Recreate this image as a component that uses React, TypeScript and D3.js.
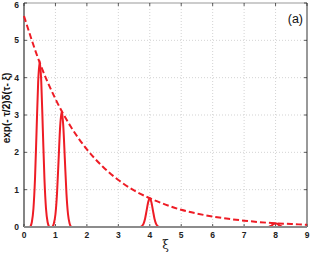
import { useMemo } from 'react';
import * as d3 from 'd3';

// envelope exp(-ξ/2)
const envXi = [0, 0.5, 1, 1.5, 2, 2.5, 3, 3.5, 4, 4.5, 5, 5.5, 6, 6.5, 7, 7.5, 8, 8.5, 9];
const envVal = [5.65, 4.4, 3.43, 2.67, 2.08, 1.62, 1.26, 0.98, 0.77, 0.6, 0.46, 0.36, 0.28, 0.22, 0.17, 0.13, 0.1, 0.08, 0.06];

// spikes: centre, height
const peakXi = [0.5, 1.2, 4, 8];
const peakHeight = [4.45, 3.1, 0.77, 0.1];
// shape of one spike (offset in ξ, fraction of height)
const peakOffset = [-0.3, -0.25, -0.2, -0.15, -0.1, -0.05, 0, 0.05, 0.1, 0.15, 0.2, 0.25, 0.3];
const peakShape = [0, 0.03, 0.11, 0.29, 0.58, 0.87, 1, 0.87, 0.58, 0.29, 0.11, 0.03, 0];

const xTicks = [0, 1, 2, 3, 4, 5, 6, 7, 8, 9];
const yTicks = [0, 1, 2, 3, 4, 5, 6];

const W = 311;
const H = 253;
const margin = { top: 3, right: 4, bottom: 26, left: 24 };
const RED = '#ee1c25';

export default function App() {
  const iw = W - margin.left - margin.right;
  const ih = H - margin.top - margin.bottom;
  const x = d3.scaleLinear().domain([0, 9]).range([0, iw]);
  const y = d3.scaleLinear().domain([0, 6]).range([ih, 0]);

  const envPath = useMemo(() => {
    const line = d3.line<number>()
      .x((_d, i) => x(envXi[i]))
      .y((d) => y(d))
      .curve(d3.curveMonotoneX);
    return line(envVal) ?? '';
  }, []);

  const peakPaths = useMemo(() => {
    const line = d3.line<[number, number]>()
      .x((d) => x(d[0]))
      .y((d) => y(d[1]))
      .curve(d3.curveMonotoneX);
    return peakXi.map((c, k) => {
      const pts: [number, number][] = peakOffset.map((o, i) => [c + o, peakShape[i] * peakHeight[k]]);
      return line(pts) ?? '';
    });
  }, []);

  const font = 'Arial, "Liberation Sans", Helvetica, sans-serif';

  return (
    <svg width={W} height={H} style={{ position: 'absolute', left: 0, top: 0, background: '#fff' }}>
      <g transform={`translate(${margin.left},${margin.top})`}>
        {/* grid */}
        {xTicks.slice(1, -1).map((t) => (
          <line key={'gx' + t} x1={x(t)} x2={x(t)} y1={0} y2={ih} stroke="#c8c8c8" strokeWidth={0.8} strokeDasharray="1,2" />
        ))}
        {yTicks.slice(1, -1).map((t) => (
          <line key={'gy' + t} x1={0} x2={iw} y1={y(t)} y2={y(t)} stroke="#c8c8c8" strokeWidth={0.8} strokeDasharray="1,2" />
        ))}

        {/* frame */}
        <line x1={0} x2={iw} y1={0} y2={0} stroke="#999" strokeWidth={1.2} />
        <line x1={iw} x2={iw} y1={0} y2={ih} stroke="#555" strokeWidth={1.2} />
        <line x1={0} x2={0} y1={0} y2={ih} stroke="#333" strokeWidth={1.2} />

        {/* ticks */}
        {xTicks.map((t) => (
          <g key={'tx' + t}>
            <line x1={x(t)} x2={x(t)} y1={ih} y2={ih - 3} stroke="#333" strokeWidth={0.8} />
            <line x1={x(t)} x2={x(t)} y1={0} y2={3} stroke="#333" strokeWidth={0.8} />
            <text x={x(t)} y={ih + 11} textAnchor="middle" fontFamily={font} fontWeight="bold" fontSize={8.5} fill="#222">{t}</text>
          </g>
        ))}
        {yTicks.map((t) => (
          <g key={'ty' + t}>
            <line x1={0} x2={3} y1={y(t)} y2={y(t)} stroke="#333" strokeWidth={0.8} />
            <line x1={iw} x2={iw - 3} y1={y(t)} y2={y(t)} stroke="#333" strokeWidth={0.8} />
            <text x={-5} y={Math.max(y(t) + 3, 5)} textAnchor="end" fontFamily={font} fontWeight="bold" fontSize={8.5} fill="#222">{t}</text>
          </g>
        ))}

        {/* spikes */}
        {peakPaths.map((d, i) => (
          <path key={'p' + i} d={d} fill="none" stroke={RED} strokeWidth={2} strokeLinejoin="round" />
        ))}

        {/* envelope */}
        <path d={envPath} fill="none" stroke={RED} strokeWidth={2} strokeDasharray="6,3" />

        {/* baseline */}
        <line x1={0} x2={iw} y1={ih} y2={ih} stroke="#8c8c8c" strokeWidth={2} />

        <text x={iw - 4} y={20} textAnchor="end" fontFamily={font} fontSize={12.5} fill="#111">(a)</text>
      </g>

      <text x={margin.left + iw / 2} y={H - 4} textAnchor="middle" fontFamily='"DejaVu Serif", serif' fontSize={12} fill="#222">ξ</text>
      <text
        transform="translate(10,108) rotate(-90)"
        textAnchor="middle"
        fontFamily={font}
        fontWeight="bold"
        fontSize={10}
        fill="#111"
      >
        exp(- τ/2)δ(τ- ξ)
      </text>
    </svg>
  );
}
